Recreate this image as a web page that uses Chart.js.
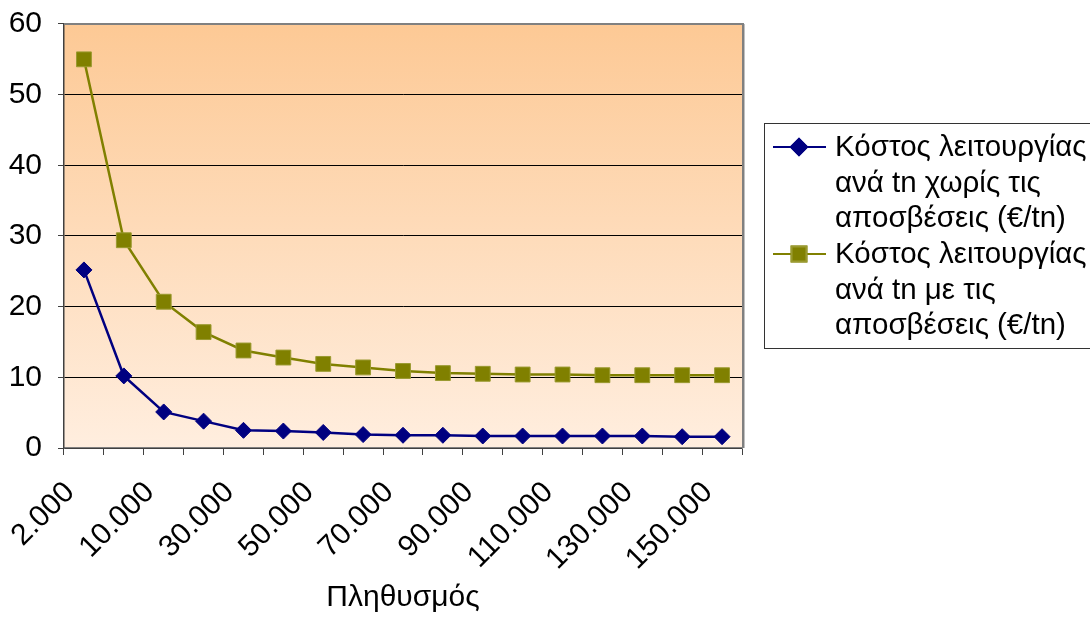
<!DOCTYPE html>
<html>
<head>
<meta charset="utf-8">
<script src="https://cdn.jsdelivr.net/npm/chart.js@4/dist/chart.umd.min.js"></script>
<style>
html,body{margin:0;padding:0;background:#fff;}
#wrap{width:1090px;height:618px;position:relative;}
</style>
</head>
<body>
<div id="wrap"><canvas id="c" width="1090" height="618"></canvas></div>
<script>
const categories = ['2.000','5.000','10.000','20.000','30.000','40.000','50.000','60.000','70.000','80.000','90.000','100.000','110.000','120.000','130.000','140.000','150.000'];
const costWithout = [25.2, 10.2, 5.1, 3.8, 2.5, 2.4, 2.2, 1.9, 1.8, 1.8, 1.7, 1.7, 1.7, 1.7, 1.7, 1.6, 1.6];
const costWith = [55.0, 29.4, 20.7, 16.4, 13.8, 12.8, 11.9, 11.4, 10.9, 10.6, 10.5, 10.4, 10.4, 10.3, 10.3, 10.3, 10.3];
const seriesNames = [
  ['Κόστος λειτουργίας', 'ανά tn χωρίς τις', 'αποσβέσεις (€/tn)'],
  ['Κόστος λειτουργίας', 'ανά tn με τις', 'αποσβέσεις (€/tn)']
];
const yTicks = [0, 10, 20, 30, 40, 50, 60];
const xTitle = 'Πληθυσμός';

const FONT = '"Liberation Sans", Arial, sans-serif';

const bgPlugin = {
  id: 'bg',
  beforeDraw(chart) {
    const {ctx, chartArea: a} = chart;
    const g = ctx.createLinearGradient(0, a.top, 0, a.bottom);
    g.addColorStop(0, '#FDC995');
    g.addColorStop(1, '#FFEEDF');
    ctx.save();
    ctx.fillStyle = g;
    ctx.fillRect(a.left, a.top, a.right - a.left, a.bottom - a.top);
    ctx.restore();
  },
  afterDatasetsDraw(chart) {
    const {ctx, chartArea: a} = chart;
    ctx.save();
    ctx.strokeStyle = '#808080';
    ctx.lineWidth = 2;
    ctx.beginPath();
    ctx.moveTo(a.left, a.top);
    ctx.lineTo(a.right + 1, a.top);
    ctx.lineTo(a.right + 1, a.bottom);
    ctx.stroke();
    ctx.strokeStyle = '#C0C0C0';
    ctx.lineWidth = 1;
    ctx.beginPath();
    ctx.moveTo(a.right + 2.5, a.top);
    ctx.lineTo(a.right + 2.5, a.bottom);
    ctx.stroke();
    ctx.restore();
  }
};

const legendPlugin = {
  id: 'customLegend',
  afterDraw(chart) {
    const ctx = chart.ctx;
    const x0 = 764, y0 = 123, w = 340, h = 225;
    ctx.save();
    ctx.strokeStyle = '#333';
    ctx.lineWidth = 1;
    ctx.strokeRect(x0 + 0.5, y0 + 0.5, w, h);
    ctx.font = '29.5px ' + FONT;
    ctx.fillStyle = '#000';
    ctx.textBaseline = 'middle';
    ctx.textAlign = 'left';
    const lh = 35.6;
    chart.data.datasets.forEach((ds, i) => {
      const yFirst = 147 + i * 107;
      ctx.strokeStyle = ds.borderColor;
      ctx.lineWidth = 2;
      ctx.beginPath();
      ctx.moveTo(773, yFirst);
      ctx.lineTo(826, yFirst);
      ctx.stroke();
      Chart.helpers.drawPoint(ctx, {
        pointStyle: ds.pointStyle,
        radius: ds.pointRadius,
        rotation: 0,
        borderWidth: 1
      }, 799, yFirst);
      ctx.fillStyle = ds.backgroundColor;
      ctx.strokeStyle = ds.pointBorderColor;
      ctx.fill();
      ctx.stroke();
      ctx.fillStyle = '#000';
      seriesNames[i].forEach((t, k) => {
        ctx.fillText(t, 835, yFirst + 1 + k * lh);
      });
    });
    ctx.restore();
  }
};

new Chart(document.getElementById('c'), {
  type: 'line',
  data: {
    labels: categories,
    datasets: [
      {
        label: seriesNames[0].join(' '),
        data: costWithout,
        borderColor: '#000080',
        backgroundColor: '#000080',
        pointBorderColor: '#000080',
        borderWidth: 2.5,
        pointStyle: 'rectRot',
        pointRadius: 8,
        pointBorderWidth: 1,
        tension: 0
      },
      {
        label: seriesNames[1].join(' '),
        data: costWith,
        borderColor: '#808000',
        backgroundColor: '#808000',
        pointBorderColor: '#9A9A30',
        borderWidth: 2.5,
        pointStyle: 'rect',
        pointRadius: 10.5,
        pointBorderWidth: 1,
        tension: 0
      }
    ]
  },
  options: {
    responsive: false,
    animation: false,
    events: [],
    layout: { padding: { left: 0, top: 10, right: 348, bottom: 0 } },
    plugins: {
      legend: { display: false },
      tooltip: { enabled: false }
    },
    scales: {
      x: {
        type: 'category',
        offset: true,
        grid: {
          offset: true,
          drawOnChartArea: false,
          drawTicks: true,
          tickLength: 7,
          color: '#404040',
          lineWidth: 1
        },
        border: { display: true, color: '#808080', width: 1.5 },
        ticks: {
          autoSkip: false,
          maxRotation: 45,
          minRotation: 45,
          padding: 20,
          labelOffset: -14,
          color: '#000',
          font: { family: FONT, size: 30 },
          callback: function(v, i) { return i % 2 === 0 ? categories[i] : ''; }
        },
        title: {
          display: true,
          text: xTitle,
          color: '#000',
          font: { family: FONT, size: 30 },
          padding: { top: 0, bottom: 2 }
        },
        afterFit(s) { s.height = 170; }
      },
      y: {
        min: 0,
        max: 60,
        afterBuildTicks(s) { s.ticks = yTicks.map(v => ({ value: v })); },
        grid: {
          color: (c) => (c.tick && c.tick.value === 60) ? '#808080' : '#000000',
          lineWidth: 1,
          drawTicks: true,
          tickLength: 6,
          tickColor: '#404040'
        },
        border: { display: true, color: '#404040', width: 1.5 },
        ticks: {
          padding: 16,
          color: '#000',
          font: { family: FONT, size: 30, lineHeight: 0.533 }
        },
        afterFit(s) { s.width = 64; }
      }
    }
  },
  plugins: [bgPlugin, legendPlugin]
});
</script>
</body>
</html>
